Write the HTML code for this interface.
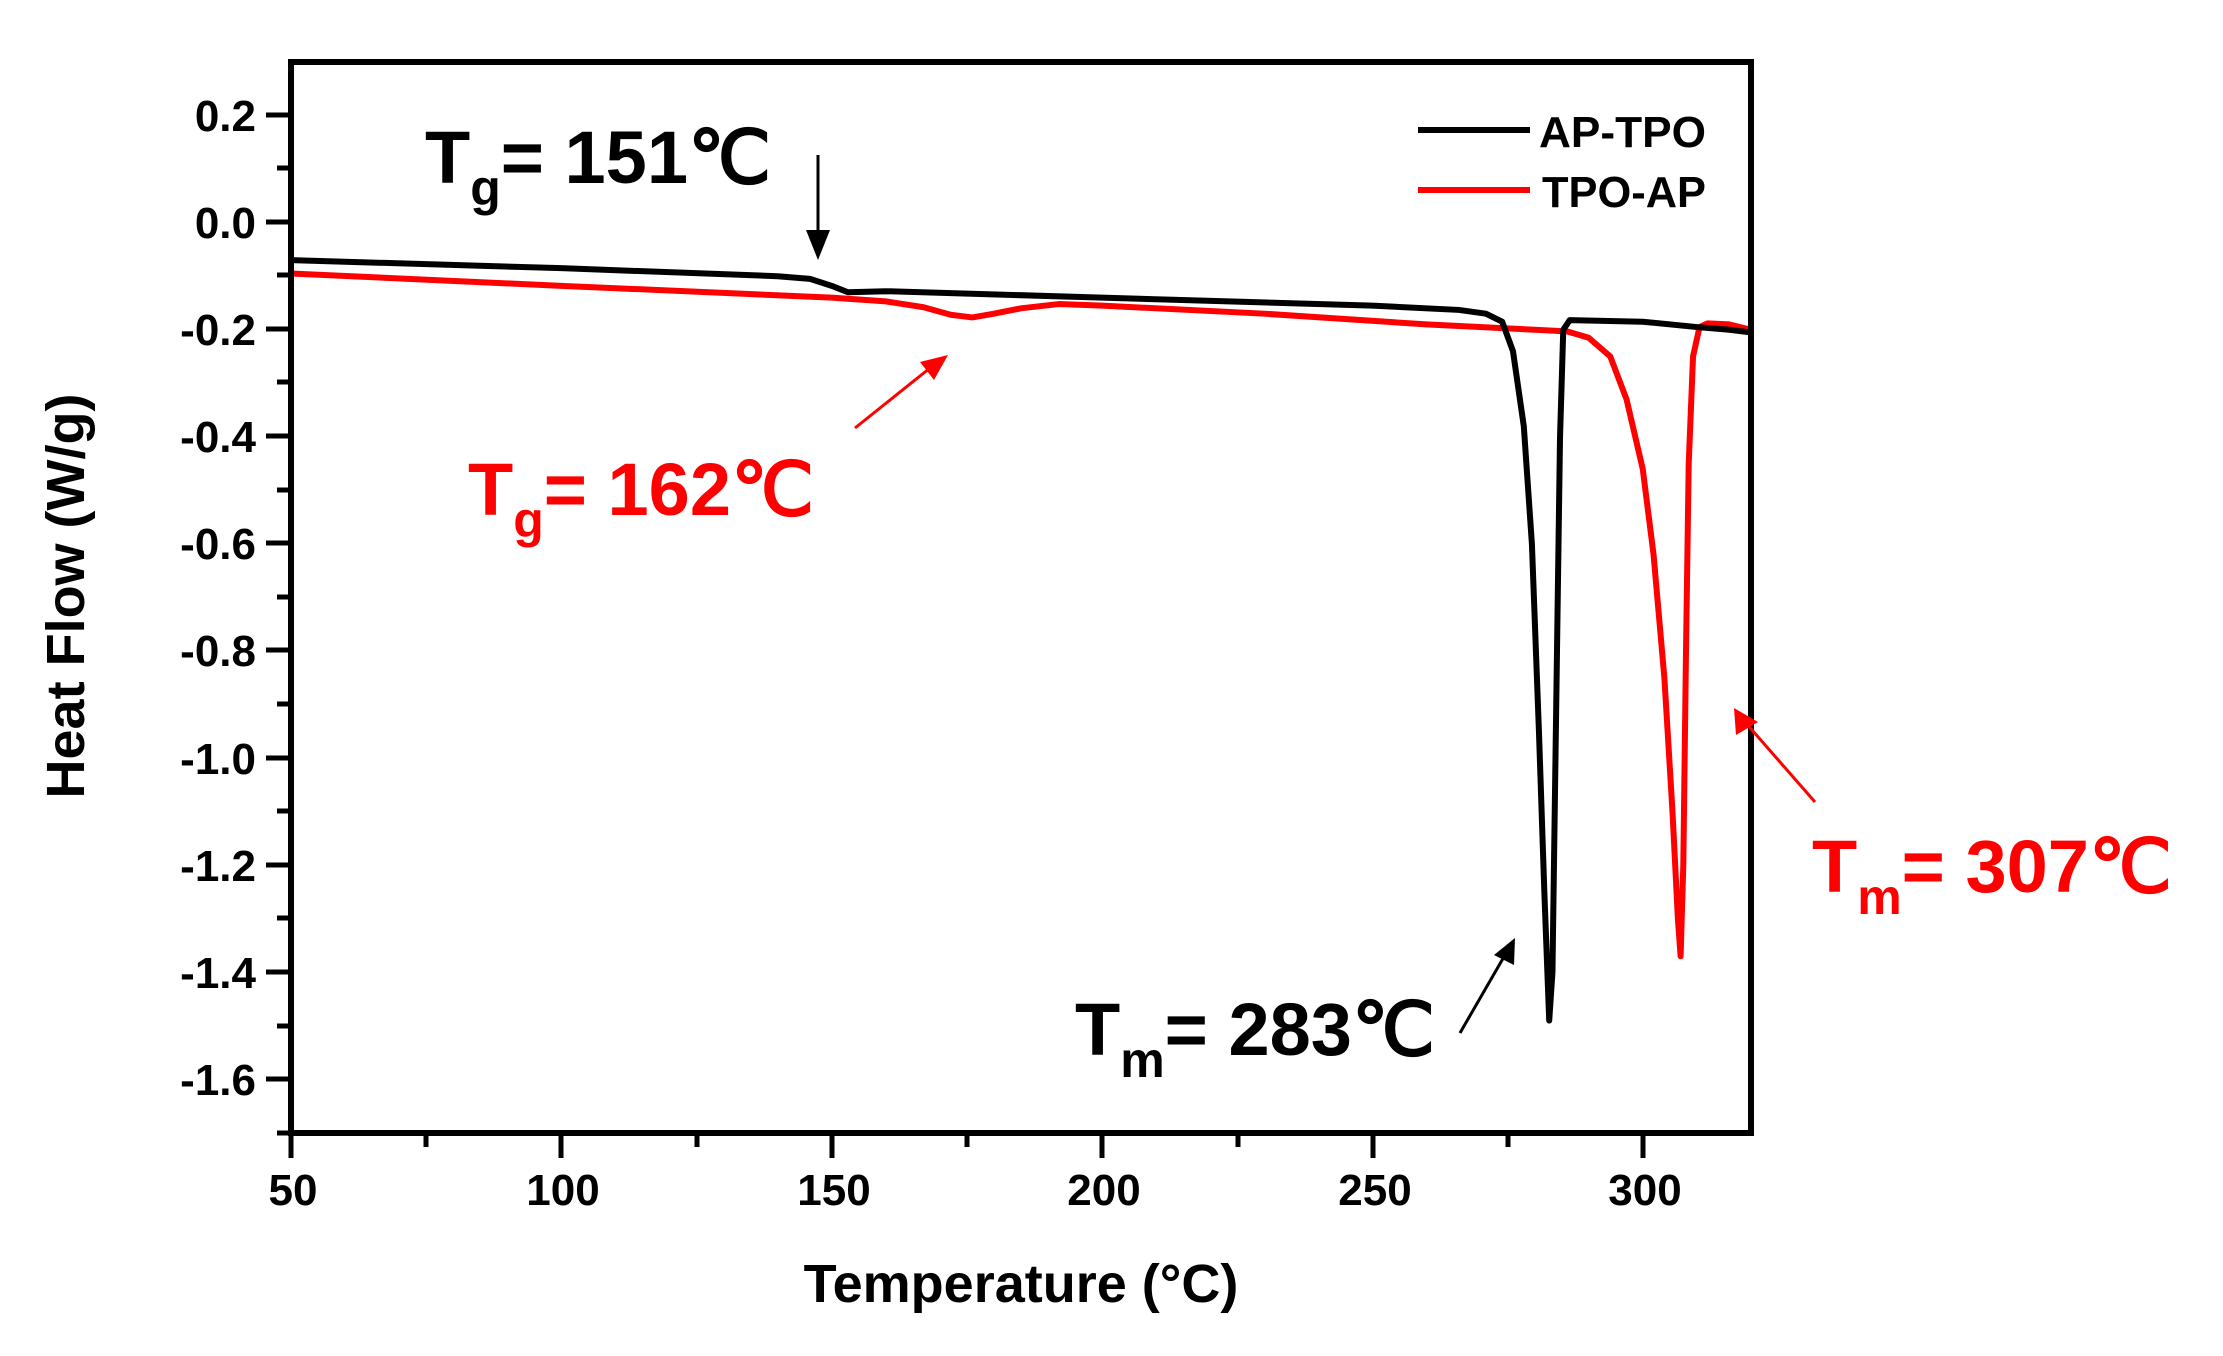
<!DOCTYPE html>
<html><head><meta charset="utf-8"><style>
html,body{margin:0;padding:0;background:#fff;}
svg{display:block;font-family:"Liberation Sans",Arial,sans-serif;font-weight:bold;}
</style></head><body>
<svg width="2223" height="1356" viewBox="0 0 2223 1356" xmlns="http://www.w3.org/2000/svg">
<rect width="2223" height="1356" fill="#fff"/>
<g transform="translate(291,62) scale(5.407,-535.5) translate(-50,-0.3)" fill="none" stroke-linejoin="round" stroke-linecap="round">
<path vector-effect="non-scaling-stroke" stroke="#ff0000" stroke-width="6" d="M50,-0.095 L100,-0.118 L150,-0.14 L160,-0.147 L167,-0.158 L172,-0.172 L176,-0.177 L180,-0.17 L185,-0.16 L192,-0.152 L200,-0.155 L230,-0.17 L260,-0.19 L280,-0.2 L286,-0.203 L290,-0.215 L294,-0.25 L297,-0.33 L300,-0.46 L302,-0.62 L304,-0.85 L305.5,-1.1 L306.5,-1.3 L307,-1.37 L307.5,-1.2 L308,-0.8 L308.5,-0.45 L309.3,-0.25 L310.5,-0.195 L312,-0.188 L316,-0.19 L320,-0.2"/>
<path vector-effect="non-scaling-stroke" stroke="#000" stroke-width="6" d="M50,-0.07 L100,-0.085 L140,-0.1 L146,-0.105 L150,-0.118 L153,-0.13 L160,-0.128 L200,-0.14 L250,-0.155 L266,-0.163 L271,-0.17 L274,-0.185 L276,-0.24 L278,-0.38 L279.5,-0.6 L280.8,-0.95 L281.8,-1.25 L282.7,-1.49 L283.3,-1.4 L284,-0.9 L284.7,-0.4 L285.3,-0.2 L286.5,-0.182 L300,-0.185 L310,-0.195 L316,-0.2 L320,-0.205"/>
</g>
<rect x="291" y="62" width="1460" height="1071" fill="none" stroke="#000" stroke-width="6"/>
<g stroke="#000" stroke-width="5">
<line x1="266" y1="115" x2="291" y2="115"/><line x1="266" y1="222" x2="291" y2="222"/><line x1="266" y1="329" x2="291" y2="329"/><line x1="266" y1="436" x2="291" y2="436"/><line x1="266" y1="543" x2="291" y2="543"/><line x1="266" y1="650" x2="291" y2="650"/><line x1="266" y1="758" x2="291" y2="758"/><line x1="266" y1="865" x2="291" y2="865"/><line x1="266" y1="972" x2="291" y2="972"/><line x1="266" y1="1079" x2="291" y2="1079"/>
<line x1="277" y1="168" x2="291" y2="168"/><line x1="277" y1="275" x2="291" y2="275"/><line x1="277" y1="382" x2="291" y2="382"/><line x1="277" y1="490" x2="291" y2="490"/><line x1="277" y1="597" x2="291" y2="597"/><line x1="277" y1="704" x2="291" y2="704"/><line x1="277" y1="811" x2="291" y2="811"/><line x1="277" y1="918" x2="291" y2="918"/><line x1="277" y1="1026" x2="291" y2="1026"/><line x1="277" y1="1133" x2="291" y2="1133"/>
<line x1="291" y1="1133" x2="291" y2="1158"/><line x1="561" y1="1133" x2="561" y2="1158"/><line x1="832" y1="1133" x2="832" y2="1158"/><line x1="1102" y1="1133" x2="1102" y2="1158"/><line x1="1373" y1="1133" x2="1373" y2="1158"/><line x1="1643" y1="1133" x2="1643" y2="1158"/>
<line x1="426" y1="1133" x2="426" y2="1147"/><line x1="697" y1="1133" x2="697" y2="1147"/><line x1="967" y1="1133" x2="967" y2="1147"/><line x1="1238" y1="1133" x2="1238" y2="1147"/><line x1="1508" y1="1133" x2="1508" y2="1147"/>
</g>
<g font-size="44" text-anchor="end" fill="#000">
<text x="256" y="131">0.2</text><text x="256" y="238">0.0</text><text x="256" y="345">-0.2</text><text x="256" y="452">-0.4</text><text x="256" y="559">-0.6</text><text x="256" y="666">-0.8</text><text x="256" y="774">-1.0</text><text x="256" y="881">-1.2</text><text x="256" y="988">-1.4</text><text x="256" y="1095">-1.6</text>
</g>
<g font-size="44" text-anchor="middle" fill="#000">
<text x="293" y="1205">50</text><text x="563" y="1205">100</text><text x="834" y="1205">150</text><text x="1104" y="1205">200</text><text x="1375" y="1205">250</text><text x="1645" y="1205">300</text>
</g>
<text x="1021" y="1302" font-size="54" text-anchor="middle">Temperature (°C)</text>
<text transform="translate(84,596) rotate(-90)" font-size="54" text-anchor="middle">Heat Flow (W/g)</text>
<line x1="1418" y1="130" x2="1530" y2="130" stroke="#000" stroke-width="6"/>
<line x1="1418" y1="190" x2="1530" y2="190" stroke="#ff0000" stroke-width="6"/>
<text x="1539" y="147" font-size="44" textLength="167" lengthAdjust="spacingAndGlyphs">AP-TPO</text>
<text x="1542" y="207" font-size="44" textLength="164" lengthAdjust="spacingAndGlyphs">TPO-AP</text>
<text x="425" y="183" font-size="74" fill="#000">T<tspan font-size="50" dy="22">g</tspan><tspan dy="-22">= 151℃</tspan></text>
<line x1="818" y1="155" x2="818" y2="232" stroke="#000" stroke-width="3"/>
<polygon points="806,230 830,230 818,260" fill="#000"/>
<text x="468" y="515" font-size="74" fill="#ff0000">T<tspan font-size="50" dy="22">g</tspan><tspan dy="-22">= 162℃</tspan></text>
<line x1="855" y1="428" x2="930" y2="368" stroke="#ff0000" stroke-width="3"/>
<polygon points="948,355 920,362 934,380" fill="#ff0000"/>
<text x="1075" y="1055" font-size="74" fill="#000">T<tspan font-size="50" dy="22">m</tspan><tspan dy="-22">= 283℃</tspan></text>
<line x1="1460" y1="1033" x2="1505" y2="955" stroke="#000" stroke-width="3"/>
<polygon points="1515,938 1494,955 1514,965" fill="#000"/>
<text x="1812" y="892" font-size="74" fill="#ff0000">T<tspan font-size="50" dy="22">m</tspan><tspan dy="-22">= 307℃</tspan></text>
<line x1="1815" y1="802" x2="1745" y2="722" stroke="#ff0000" stroke-width="3"/>
<polygon points="1734,708 1736,735 1758,722" fill="#ff0000"/>
</svg>
</body></html>
